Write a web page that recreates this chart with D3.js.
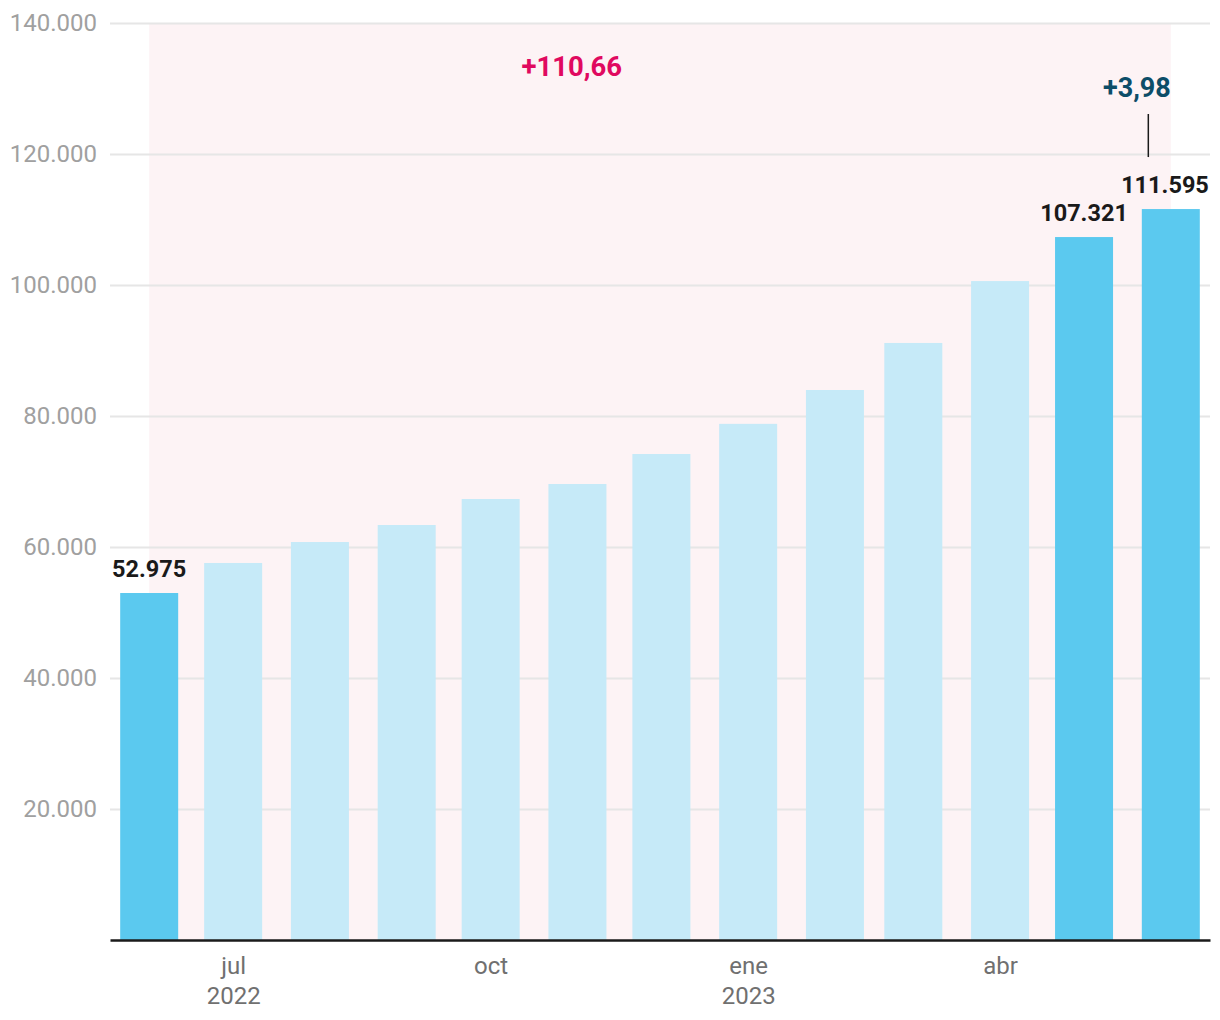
<!DOCTYPE html>
<html>
<head>
<meta charset="utf-8">
<script src="https://cdn.jsdelivr.net/npm/d3@7"></script>
<style>
  html, body { margin: 0; padding: 0; background: #fff; }
  svg { display: block; font-family: Roboto, "Noto Sans", sans-serif; }
</style>
</head>
<body>
<svg id="chart" width="1220" height="1020"></svg>
<script>
// ---- data ----
const months = ["2022-06-01","2022-07-01","2022-08-01","2022-09-01","2022-10-01","2022-11-01","2022-12-01",
                "2023-01-01","2023-02-01","2023-03-01","2023-04-01","2023-05-01","2023-06-01"];
const values = [52975, 57560, 60760, 63360, 67330, 69620, 74200, 78800, 83970, 91150, 100600, 107321, 111595];
const highlighted = [true, false, false, false, false, false, false, false, false, false, false, true, true];
const valueLabels = ["52.975", "", "", "", "", "", "", "", "", "", "", "107.321", "111.595"];
const yTicks = [20000, 40000, 60000, 80000, 100000, 120000, 140000];
const xTicks = ["2022-07-01", "2022-10-01", "2023-01-01", "2023-04-01"];
const xTickLabels = [["jul", "2022"], ["oct"], ["ene", "2023"], ["abr"]];
const totalChange = "+110,66";
const totalChangeDate = "2022-10-30";
const lastChange = "+3,98";

// ---- scales ----
const parse = d3.timeParse("%Y-%m-%d");
const dates = months.map(parse);
const svg = d3.select("#chart");
const x = d3.scaleTime()
  .domain([d3.timeDay.offset(dates[0], -14), d3.timeDay.offset(dates[dates.length - 1], 14)])
  .range([110, 1210]);
const y = d3.scaleLinear().domain([0, 140000]).range([940, 23]);
const locale = d3.formatLocale({decimal: ",", thousands: ".", grouping: [3], currency: ["", "€"]});
const fmt = locale.format(",.0f");
const barW = 58;

// ---- shaded range ----
svg.append("rect")
  .attr("x", x(dates[0])).attr("width", x(dates[dates.length - 1]) - x(dates[0]))
  .attr("y", y(140000)).attr("height", y(0) - y(140000))
  .attr("fill", "#fdf3f5");

// ---- grid + y axis ----
const yAxis = d3.axisLeft(y).tickValues(yTicks).tickFormat(fmt).tickSize(-1100).tickPadding(13);
const gy = svg.append("g").attr("transform", "translate(110,0)").call(yAxis);
gy.select(".domain").remove();
gy.selectAll(".tick line").attr("stroke", "#e6e6e6").attr("stroke-width", 2);
gy.selectAll(".tick text").attr("fill", "#a0a0a0").attr("font-size", 24)
  .attr("font-family", "Roboto, sans-serif").attr("x", -13);

// ---- bars ----
svg.append("g").selectAll("rect").data(values).join("rect")
  .attr("x", (d, i) => x(dates[i]) - barW / 2)
  .attr("width", barW)
  .attr("y", d => y(d))
  .attr("height", d => y(0) - y(d))
  .attr("fill", (d, i) => highlighted[i] ? "#5bc9ef" : "#c6eaf8");

// ---- x axis ----
const xAxis = d3.axisBottom(x).tickValues(xTicks.map(parse)).tickSize(0).tickFormat("");
const gx = svg.append("g").attr("transform", "translate(0,940)").call(xAxis);
gx.select(".domain").attr("stroke", "#1a1a1a").attr("stroke-width", 2.5);
gx.selectAll(".tick").each(function(d, i) {
  const t = d3.select(this).select("text").text(null)
    .attr("fill", "#707070").attr("font-size", 24).attr("font-family", "Roboto, sans-serif")
    .attr("y", 0).attr("dy", null);
  xTickLabels[i].forEach((s, j) => {
    t.append("tspan").attr("x", 0).attr("y", 34 + j * 30).text(s);
  });
});

// ---- value labels ----
const labelX = (i) => Math.min(x(dates[i]), 1210 - 45);
const labelled = values.map((v, i) => i).filter(i => valueLabels[i] !== "");
svg.append("g").selectAll("text").data(labelled).join("text")
  .attr("x", i => labelX(i))
  .attr("y", i => y(values[i]) - 16)
  .attr("text-anchor", "middle")
  .attr("font-size", 23.5).attr("font-weight", 700).attr("fill", "#1a1a1a")
  .text(i => valueLabels[i]);

// ---- annotations ----
svg.append("text")
  .attr("x", x(parse(totalChangeDate)))
  .attr("y", 76)
  .attr("text-anchor", "middle")
  .attr("font-size", 27.5).attr("font-weight", 700).attr("fill", "#e0095f")
  .text(totalChange);

const lastX = x(dates[dates.length - 1]);
svg.append("text")
  .attr("x", lastX)
  .attr("y", 97)
  .attr("text-anchor", "end")
  .attr("font-size", 27).attr("font-weight", 700).attr("fill", "#0c4d68")
  .text(lastChange);
svg.append("line")
  .attr("x1", lastX - 22.5).attr("x2", lastX - 22.5)
  .attr("y1", 114).attr("y2", y(values[values.length - 1]) - 52)
  .attr("stroke", "#1a1a1a").attr("stroke-width", 1.5);
</script>
</body>
</html>
